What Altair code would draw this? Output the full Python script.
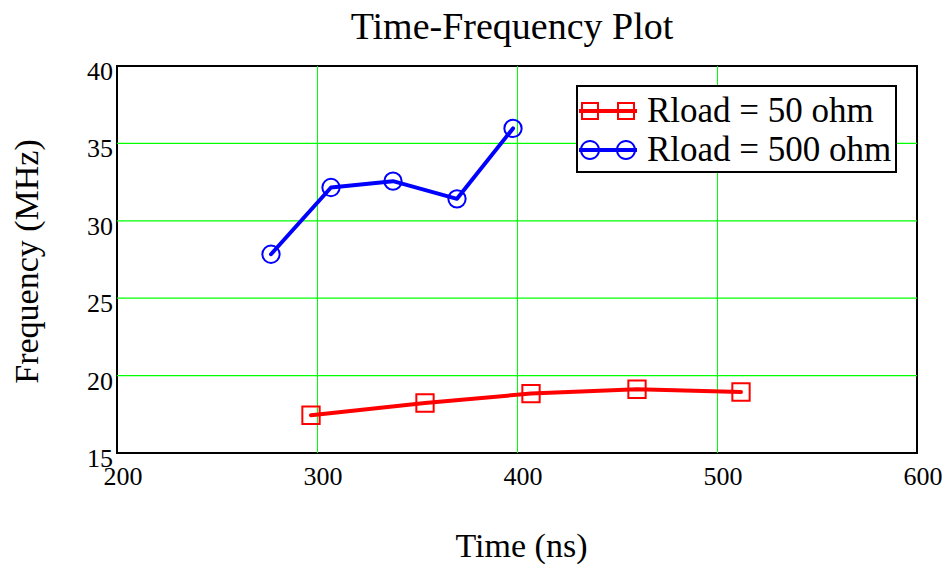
import altair as alt
import pandas as pd

# Series data
series_names = ["Rload = 50 ohm", "Rload = 500 ohm"]
series_colors = ["#FF0000", "#0000FF"]

time_50 = [297, 354, 407, 460, 512]
freq_50 = [17.44, 18.23, 18.84, 19.12, 18.94]

time_500 = [277, 307, 338, 370, 398]
freq_500 = [27.84, 32.15, 32.56, 31.42, 35.97]

x_ticks = [200, 300, 400, 500, 600]
y_ticks = [15, 20, 25, 30, 35, 40]

FONT = "Liberation Serif"
GRID = "#00FF00"
PLOT_W, PLOT_H = 800, 387

df = pd.concat(
    [
        pd.DataFrame({"time": time_50, "freq": freq_50, "series": series_names[0]}),
        pd.DataFrame({"time": time_500, "freq": freq_500, "series": series_names[1]}),
    ],
    ignore_index=True,
)

# Legend glyph geometry (pixels): glyph radius R sets the legend row size,
# the glyph itself is wider than that and is drawn in units of R.
R = 21.0
HALF_W = 29.0 / R        # half length of the line sample
MARK_C = 18.0 / R        # marker centre offset
LINE_H = 2.0 / R         # half line thickness


def _line():
    return f"M{-HALF_W:.3f},{-LINE_H:.3f}H{HALF_W:.3f}V{LINE_H:.3f}H{-HALF_W:.3f}Z"


def _square_ring(c, outer=9.0 / R, inner=7.0 / R):
    return (
        f"M{c - outer:.3f},{-outer:.3f}H{c + outer:.3f}V{outer:.3f}H{c - outer:.3f}Z"
        f"M{c - inner:.3f},{-inner:.3f}V{inner:.3f}H{c + inner:.3f}V{-inner:.3f}Z"
    )


def _circle_ring(c, outer=10.0 / R, inner=8.0 / R):
    return (
        f"M{c - outer:.3f},0A{outer:.3f},{outer:.3f} 0 1 1 {c + outer:.3f},0"
        f"A{outer:.3f},{outer:.3f} 0 1 1 {c - outer:.3f},0Z"
        f"M{c - inner:.3f},0A{inner:.3f},{inner:.3f} 0 1 0 {c + inner:.3f},0"
        f"A{inner:.3f},{inner:.3f} 0 1 0 {c - inner:.3f},0Z"
    )


legend_shapes = [
    _line() + _square_ring(-MARK_C) + _square_ring(MARK_C),
    _line() + _circle_ring(-MARK_C) + _circle_ring(MARK_C),
]

color_scale = alt.Scale(domain=series_names, range=series_colors)
x_scale = alt.Scale(domain=[200, 600], nice=False, zero=False)
y_scale = alt.Scale(domain=[15, 40], nice=False, zero=False)

axis_common = dict(
    grid=False,
    ticks=False,
    domain=False,
    labels=False,
    titleFont=FONT,
    titleFontSize=34,
    titleFontWeight="normal",
    titleColor="black",
    titleBaseline="alphabetic",
)

x_enc = alt.X(
    "time:Q",
    scale=x_scale,
    axis=alt.Axis(values=x_ticks, title="Time (ns)", titleX=404, titleY=103, **axis_common),
)

y_enc = alt.Y(
    "freq:Q",
    scale=y_scale,
    axis=alt.Axis(
        values=y_ticks,
        title="Frequency (MHz)",
        titleX=-80,
        titleY=195,
        titleAngle=270,
        **axis_common,
    ),
)

x_tick_df = pd.DataFrame({"time": x_ticks})
y_tick_df = pd.DataFrame({"freq": y_ticks})

# Interior grid lines at the major tick values
vgrid = (
    alt.Chart(x_tick_df)
    .transform_filter("datum.time > 200 && datum.time < 600")
    .mark_rule(color=GRID, strokeWidth=1, xOffset=0.5)
    .encode(x=x_enc)
)
hgrid = (
    alt.Chart(y_tick_df)
    .transform_filter("datum.freq > 15 && datum.freq < 40")
    .mark_rule(color=GRID, strokeWidth=1.2)
    .encode(y=y_enc)
)

# Tick labels
x_labels = (
    alt.Chart(x_tick_df)
    .mark_text(font=FONT, fontSize=26, color="black", baseline="top", align="center", dx=6)
    .encode(x=x_enc, y=alt.value(PLOT_H + 11), text=alt.Text("time:Q", format="d"))
)
y_labels = (
    alt.Chart(y_tick_df)
    .mark_text(font=FONT, fontSize=26, color="black", baseline="middle", align="right", dy=6)
    .encode(y=y_enc, x=alt.value(-4), text=alt.Text("freq:Q", format="d"))
)

base = alt.Chart(df)

lines = base.mark_line(strokeWidth=4, strokeCap="round", strokeJoin="round").encode(
    x=x_enc,
    y=y_enc,
    color=alt.Color("series:N", scale=color_scale, legend=None),
    detail="series:N",
)

squares = (
    base.transform_filter(alt.datum.series == series_names[0])
    .mark_point(shape="square", size=300, strokeWidth=2, filled=False, opacity=1)
    .encode(x=x_enc, y=y_enc, color=alt.Color("series:N", scale=color_scale, legend=None))
)

circles = (
    base.transform_filter(alt.datum.series == series_names[1])
    .mark_point(shape="circle", size=300, strokeWidth=2, filled=False, opacity=1)
    .encode(x=x_enc, y=y_enc, color=alt.Color("series:N", scale=color_scale, legend=None))
)

GLYPH_SIZE = (2 * R) ** 2

legend_def = alt.Legend(
    title=None,
    orient="none",
    legendX=460,
    legendY=20,
    strokeColor="black",
    fillColor="white",
    padding=4,
    symbolSize=GLYPH_SIZE,
    symbolStrokeWidth=0,
    symbolOpacity=1,
    symbolOffset=6,
    labelFont=FONT,
    labelFontSize=35,
    labelColor="black",
    labelOffset=18,
    labelLimit=400,
    rowPadding=-4,
)

# Carries the legend only; draws no points of its own.
legend_layer = (
    base.transform_filter("false")
    .mark_point(filled=True, size=GLYPH_SIZE, strokeWidth=0)
    .encode(
        x=x_enc,
        y=y_enc,
        color=alt.Color("series:N", scale=color_scale, legend=legend_def),
        shape=alt.Shape(
            "series:N",
            scale=alt.Scale(domain=series_names, range=legend_shapes),
            legend=legend_def,
        ),
    )
)

chart = (
    alt.layer(vgrid, hgrid, lines, squares, circles, x_labels, y_labels, legend_layer)
    .resolve_legend(color="independent", shape="independent")
    .properties(
        width=PLOT_W,
        height=PLOT_H,
        autosize=alt.AutoSizeParams(type="none"),
        padding={"left": 117, "top": 66, "right": 33, "bottom": 112},
        title=alt.TitleParams(
            "Time-Frequency Plot",
            font=FONT,
            fontSize=38,
            fontWeight="normal",
            color="black",
            anchor="middle",
            offset=12,
            dx=-5,
        ),
        background="white",
    )
    .configure_view(stroke="black", strokeWidth=2)
    .configure_legend(strokeWidth=2)
)

chart.save("out.html", embed_options={"renderer": "svg", "actions": False})
